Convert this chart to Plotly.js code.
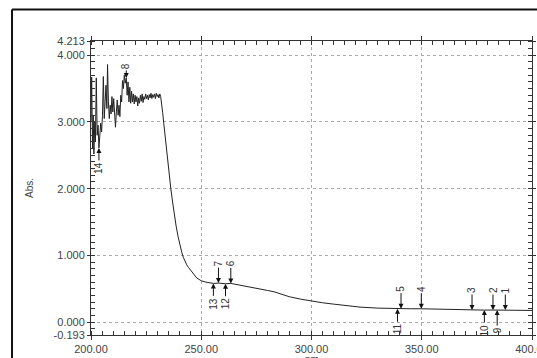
<!DOCTYPE html>
<html>
<head>
<meta charset="utf-8">
<script src="https://cdn.plot.ly/plotly-3.0.1.min.js"></script>
<style>
html,body{margin:0;padding:0;background:#ffffff;}
#chart{width:537px;height:358px;}
</style>
</head>
<body>
<div id="chart"></div>
<script>
// Wavelength (nm)
const wavelength = [
  200.0,200.3,200.7,201.0,201.3,201.7,202.0,202.4,202.8,203.2,203.6,204.0,204.4,204.8,205.2,205.6,206.0,206.4,206.8,207.2,
  207.5,207.9,208.3,208.7,209.1,209.5,209.9,210.3,210.7,211.1,211.5,211.9,212.3,212.7,213.1,213.5,213.9,214.3,214.7,215.1,
  215.5,216.0,216.4,216.8,217.2,217.6,218.0,218.4,218.8,219.2,219.6,220.0,220.4,220.8,221.2,221.6,222.0,222.4,222.8,223.2,
  223.6,224.0,224.4,224.8,225.2,225.6,226.0,226.4,226.8,227.2,227.6,228.0,228.4,228.8,229.2,229.6,230.0,230.4,230.8,231.2,
  231.6,232.0,232.5,233.0,233.6,234.6,235.4,236.2,237.0,237.8,238.6,239.5,240.4,241.2,241.9,242.6,243.4,244.2,245.3,246.4,
  247.2,248.0,249.0,250.0,252.0,254.0,255.5,257.8,259.0,261.0,263.4,266.0,270.0,275.0,280.0,283.0,285.0,287.0,290.0,295.0,
  300.0,305.0,310.0,316.0,322.0,330.0,339.0,340.6,345.0,349.8,355.0,360.0,365.0,372.8,378.4,382.3,384.2,387.9,392.0,396.0,
  400.0
];
// Absorbance
const absorbance = [
  3.00,3.67,2.60,3.10,2.52,3.00,2.70,3.66,2.80,2.95,2.61,2.80,2.98,2.85,3.10,3.68,3.05,3.30,3.55,3.20,
  3.86,3.30,3.05,3.25,3.12,3.38,3.15,3.35,3.05,2.92,3.15,3.33,3.10,3.25,3.08,3.40,3.30,3.62,3.50,3.70,
  3.58,3.66,3.40,3.60,3.30,3.52,3.28,3.46,3.30,3.42,3.27,3.40,3.30,3.38,3.24,3.36,3.28,3.40,3.31,3.42,
  3.29,3.38,3.34,3.42,3.35,3.40,3.33,3.41,3.36,3.43,3.35,3.41,3.37,3.42,3.35,3.43,3.38,3.41,3.36,3.42,
  3.38,3.30,3.14,2.98,2.78,2.48,2.23,2.00,1.80,1.60,1.44,1.28,1.14,1.04,0.97,0.91,0.86,0.82,0.77,0.72,
  0.69,0.66,0.64,0.62,0.60,0.59,0.580,0.585,0.580,0.575,0.580,0.565,0.535,0.505,0.475,0.455,0.435,0.410,0.380,0.345,
  0.315,0.290,0.270,0.245,0.225,0.210,0.200,0.202,0.200,0.200,0.195,0.190,0.185,0.182,0.180,0.181,0.180,0.180,0.178,0.176,
  0.175
];
// Peak picks
const peakLabels = ['1','2','3','4','5','6','7','8','9','10','11','12','13','14'];
const peakNm     = [387.9,382.3,372.8,349.8,340.6,263.4,257.8,216.0,384.2,378.4,339.0,261.0,255.5,203.6];
const peakKind   = ['max','max','max','max','max','max','max','max','min','min','min','min','min','min'];
// Tick labels
const yTickVals = [-0.193,0,1,2,3,4,4.213];
const yTickText = ['-0.193','0.000','1.000','2.000','3.000','4.000','4.213'];
const xTickVals = [200,250,300,350,400];
const xTickText = ['200.00','250.00','300.00','350.00','400.00'];

function interp(x){
  for(let i=0;i<wavelength.length-1;i++){
    if(x>=wavelength[i] && x<=wavelength[i+1]){
      const t=(x-wavelength[i])/(wavelength[i+1]-wavelength[i]);
      return absorbance[i]+t*(absorbance[i+1]-absorbance[i]);
    }
  }
  return absorbance[absorbance.length-1];
}

const annotations = peakLabels.map((lab,i)=>{
  const up = peakKind[i]==='max';
  const short = lab==='8';
  return {
    x: peakNm[i], y: interp(peakNm[i]), xref:'x', yref:'y',
    text: lab, textangle: -90,
    showarrow: true, arrowhead: 2, arrowsize: 1, arrowwidth: 1, arrowcolor:'#111',
    ax: 0, ay: up ? (short ? -12 : -20) : 20,
    standoff: 0,
    font: {family:'Liberation Sans, Arial, sans-serif', size: 10, color:'#333'}
  };
});
annotations.push({
  text:'nm', xref:'paper', yref:'paper', x:0.5, y:-0.058, xanchor:'center', yanchor:'top',
  showarrow:false, font:{family:'Liberation Sans, Arial, sans-serif', size:10, color:'#444'}
});

const frameColor = '#111';
const shapes = [
  {type:'line', xref:'paper', yref:'paper', x0:-0.1791, x1:1.2, y0:1.1075, y1:1.1075, line:{color:frameColor,width:2}},
  {type:'line', xref:'paper', yref:'paper', x0:-0.1791, x1:-0.1791, y0:1.1075, y1:-0.3, line:{color:frameColor,width:2}}
];

const trace = {
  x: wavelength, y: absorbance, type:'scatter', mode:'lines',
  line:{color:'#222', width:1}, hoverinfo:'skip'
};

const font = {family:'Liberation Sans, Arial, sans-serif', size:11, color:'#444'};

const layout = {
  width:537, height:358,
  margin:{l:91, r:5, t:41, b:23, pad:0},
  paper_bgcolor:'#ffffff', plot_bgcolor:'#ffffff',
  showlegend:false,
  font: font,
  xaxis:{
    range:[200,400], tickmode:'array', tickvals:xTickVals, ticktext:xTickText,
    ticks:'outside', ticklen:4, tickcolor:'#333', tickfont:font, ticklabeloverflow:'allow',
    showline:true, linecolor:'#333', linewidth:1, mirror:'ticks',
    showgrid:true, gridcolor:'#aaa', griddash:'dot', gridwidth:1,
    zeroline:false,
    minor:{tickmode:'linear', tick0:200, dtick:5, ticks:'inside', ticklen:4, tickcolor:'#333', showgrid:false},
    automargin:false
  },
  yaxis:{
    range:[-0.193,4.213], tickmode:'array', tickvals:yTickVals, ticktext:yTickText,
    ticks:'outside', ticklen:3, tickcolor:'#333', tickfont:font,
    showline:true, linecolor:'#333', linewidth:1, mirror:'ticks',
    showgrid:true, gridcolor:'#aaa', griddash:'dot', gridwidth:1,
    zeroline:false,
    minor:{tickmode:'linear', tick0:0, dtick:0.1, ticks:'inside', ticklen:4, tickcolor:'#333', showgrid:false},
    title:{text:'Abs.', font:{family:'Liberation Sans, Arial, sans-serif', size:10, color:'#444'}, standoff:18},
    automargin:false
  },
  annotations: annotations,
  shapes: shapes
};

Plotly.newPlot('chart',[trace],layout,{displayModeBar:false, staticPlot:true});
</script>
</body>
</html>
